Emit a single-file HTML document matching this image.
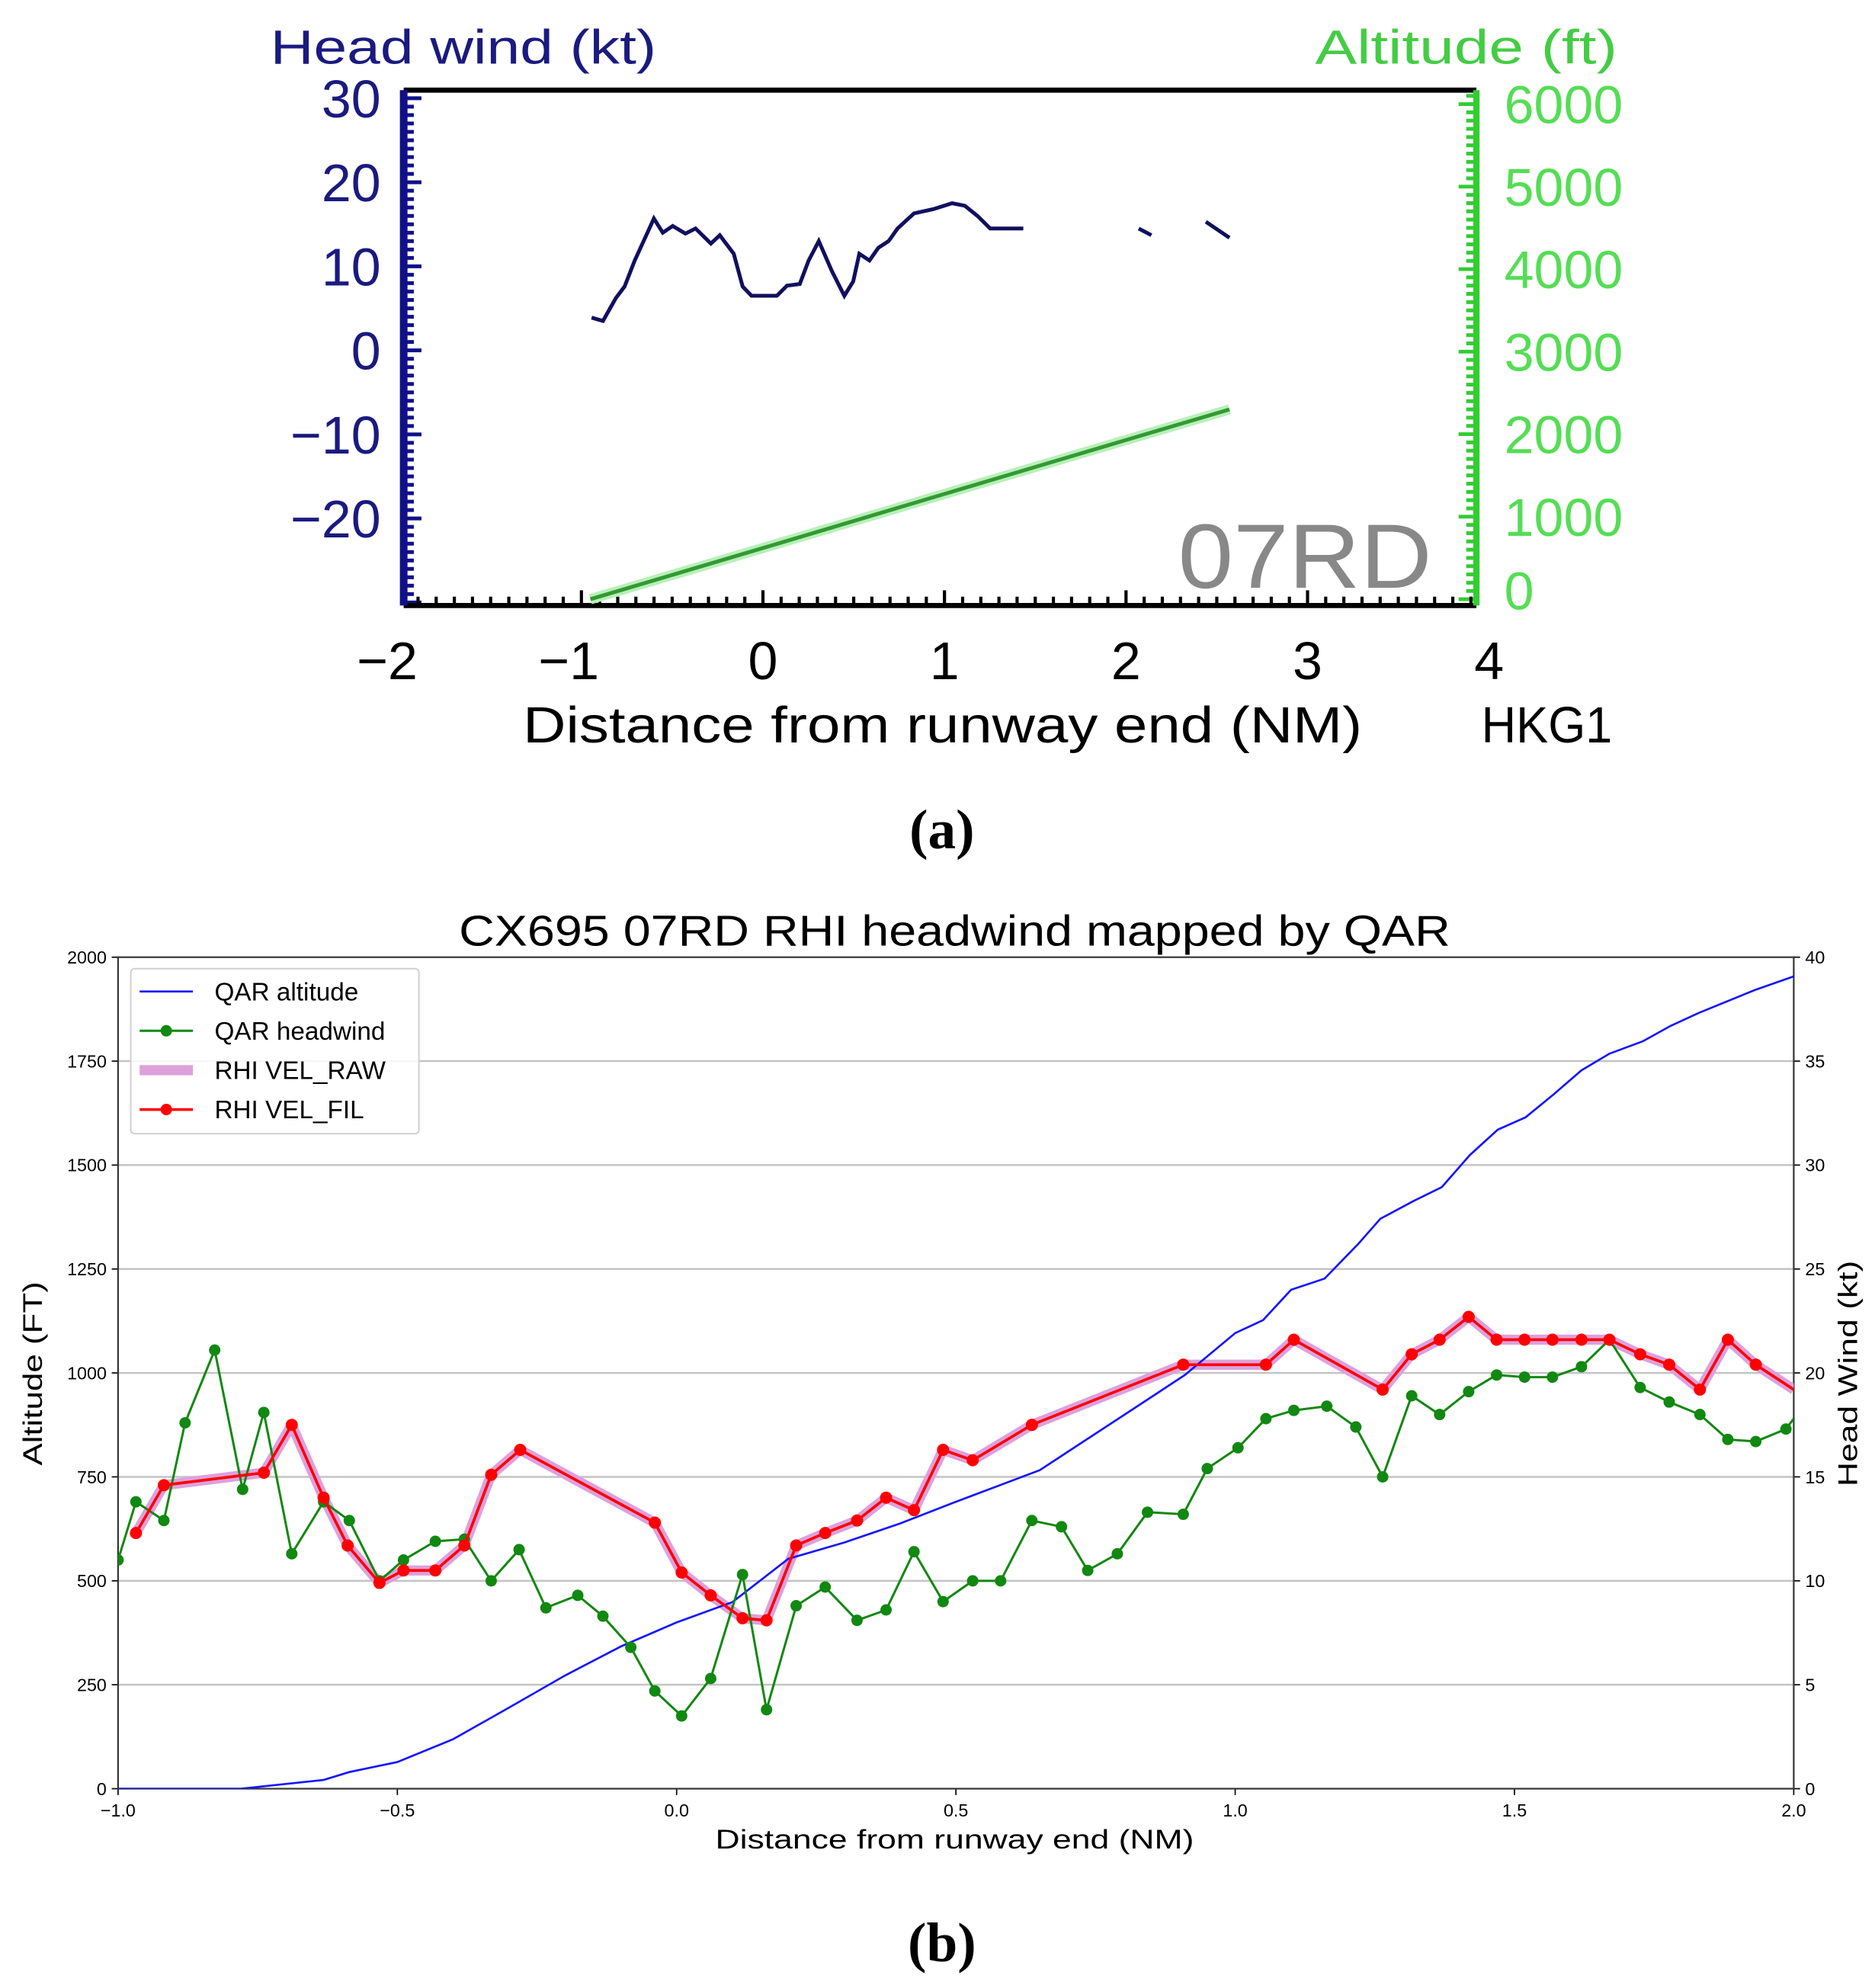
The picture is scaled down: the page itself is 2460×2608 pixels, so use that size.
<!DOCTYPE html>
<html><head><meta charset="utf-8"><style>
html,body{margin:0;padding:0;background:#fff;}
svg{display:block;}
text{font-family:"Liberation Sans",sans-serif;}
</style></head>
<body>
<svg id="fig" xmlns="http://www.w3.org/2000/svg" width="2460" height="2608" viewBox="0 0 1477 1566" preserveAspectRatio="none">
<rect x="0" y="0" width="1477" height="1566" fill="#fff"/>
<g id="pa"></g>
<g id="pb"></g>
</svg>
<script>
// ---------- Panel (a) data ----------
const aWindX = [-0.944,-0.881,-0.811,-0.762,-0.706,-0.657,-0.601,-0.552,-0.497,-0.427,-0.371,-0.287,-0.238,-0.161,-0.112,-0.063,0.077,0.133,0.203,0.252,0.308,0.378,0.448,0.497,0.531,0.587,0.636,0.692,0.741,0.832,0.937,1.042,1.112,1.182,1.252,1.322,1.434,null,2.07,2.14,null,2.44,2.57];
const aWindV = [3.9,3.5,6.2,7.6,10.7,13.0,15.7,14.0,14.8,13.9,14.5,12.7,13.7,11.5,7.6,6.5,6.5,7.7,7.9,10.7,13.0,9.5,6.5,8.2,11.5,10.7,12.2,13.0,14.5,16.3,16.8,17.5,17.2,16.0,14.5,14.5,14.5,null,14.5,13.7,null,15.3,13.4];
const aAltX = [-0.95,0,1,2,2.57];
const aAltV = [0,620,1275,1930,2300];
const aLeftTicks = [30,20,10,0,-10,-20];
const aRightTicks = [6000,5000,4000,3000,2000,1000,0];
const aXTicks = [-2,-1,0,1,2,3,4];

// ---------- Panel (b) data ----------
const bAltX = [-1.0,-0.78,-0.632,-0.586,-0.5,-0.4,-0.3,-0.2,-0.1,0,0.1,0.2,0.3,0.4,0.5,0.65,0.8,0.91,1.0,1.05,1.1,1.16,1.22,1.26,1.32,1.37,1.42,1.47,1.52,1.57,1.62,1.67,1.73,1.78,1.83,1.93,2.0];
const bAltV = [0,0,21,40,64,119,195,272,342,400,449,553,592,638,690,766,898,995,1096,1127,1200,1227,1310,1371,1414,1447,1524,1585,1615,1670,1728,1768,1798,1835,1866,1921,1954];
const bGreenX = [-1.0,-0.968,-0.918,-0.880,-0.827,-0.777,-0.739,-0.689,-0.632,-0.586,-0.532,-0.489,-0.432,-0.380,-0.332,-0.282,-0.234,-0.177,-0.132,-0.082,-0.039,0.009,0.061,0.118,0.161,0.214,0.266,0.323,0.375,0.425,0.477,0.530,0.580,0.636,0.689,0.736,0.789,0.843,0.907,0.950,1.005,1.055,1.105,1.164,1.216,1.264,1.316,1.366,1.418,1.468,1.518,1.568,1.620,1.670,1.725,1.777,1.832,1.882,1.932,1.986];
const bGreenV = [11.0,13.8,12.9,17.6,21.1,14.4,18.1,11.3,13.8,12.9,10.0,11.0,11.9,12.0,10.0,11.5,8.7,9.3,8.3,6.8,4.7,3.5,5.3,10.3,3.8,8.8,9.7,8.1,8.6,11.4,9.0,10.0,10.0,12.9,12.6,10.5,11.3,13.3,13.2,15.4,16.4,17.8,18.2,18.4,17.4,15.0,18.9,18.0,19.1,19.9,19.8,19.8,20.3,21.6,19.3,18.6,18.0,16.8,16.7,17.3];
const bRedX = [-0.968,-0.918,-0.739,-0.689,-0.632,-0.589,-0.532,-0.489,-0.432,-0.380,-0.332,-0.280,-0.039,0.009,0.061,0.118,0.161,0.214,0.266,0.323,0.375,0.425,0.477,0.530,0.636,0.907,1.055,1.105,1.264,1.316,1.366,1.418,1.468,1.518,1.568,1.620,1.670,1.725,1.777,1.832,1.882,1.932];
const bRedV = [12.3,14.6,15.2,17.5,14.0,11.7,9.9,10.5,10.5,11.7,15.1,16.3,12.8,10.4,9.3,8.2,8.1,11.7,12.3,12.9,14.0,13.4,16.3,15.8,17.5,20.4,20.4,21.6,19.2,20.9,21.6,22.7,21.6,21.6,21.6,21.6,21.6,20.9,20.4,19.2,21.6,20.4];
const bRedEndX = 2.0;
const bRedEndV = 19.2;
const bLeftTicks = [0,250,500,750,1000,1250,1500,1750,2000];
const bRightTicks = [0,5,10,15,20,25,30,35,40];
const bXTicks = [-1.0,-0.5,0.0,0.5,1.0,1.5,2.0];

const NS="http://www.w3.org/2000/svg";
function mk(parent,tag,attrs,txt){const e=document.createElementNS(NS,tag);for(const k in attrs)e.setAttribute(k,attrs[k]);if(txt!==undefined)e.textContent=txt;parent.appendChild(e);return e;}
function pathFrom(xs,vs,fx,fy){let d="",pen=false;for(let i=0;i<xs.length;i++){if(xs[i]===null||vs[i]===null){pen=false;continue;}d+=(pen?"L":"M")+fx(xs[i]).toFixed(1)+","+fy(vs[i]).toFixed(1)+" ";pen=true;}return d;}

// ================= PANEL A =================
const pa=document.getElementById('pa');
const axX=d=>601+d*143, axY=v=>276-v*6.62, aaY=a=>472-a*0.065;
const PL=318,PR=1163,PT=71,PB=477;
let t;
t=mk(pa,'text',{x:213,y:50,'font-size':38,fill:'#1a1a80',textLength:304,lengthAdjust:'spacingAndGlyphs'},'Head wind (kt)');

t=mk(pa,'text',{x:1036,y:50,'font-size':38,fill:'#44cc44',textLength:238,lengthAdjust:'spacingAndGlyphs'},'Altitude (ft)');

for(let v=-30;v<=30;v++){const y=axY(v);if(y<PT||y>PB)continue;const L=(v%10===0)?14:8;
 const tk=mk(pa,'line',{x1:PL,x2:PL+L,y1:y,y2:y,stroke:'#10108a','stroke-width':3});
 }
for(let a=0;a<=6200;a+=100){const y=aaY(a);if(y<PT||y>PB)continue;const L=(a%1000===0)?14:8;
 const tk=mk(pa,'line',{x1:PR-L,x2:PR,y1:y,y2:y,stroke:'#33cc33','stroke-width':3});
 }
for(let d=-2;d<=3.95;d+=0.1){const x=axX(d);if(x<PL||x>PR)continue;const major=Math.abs(d-Math.round(d))<0.01;
 const tk=mk(pa,'line',{x1:x,x2:x,y1:PB,y2:PB-(major?12:7),stroke:'#000','stroke-width':2.5});
 }
mk(pa,'line',{x1:PL,x2:PR,y1:PT,y2:PT,stroke:'#000','stroke-width':4});
mk(pa,'line',{x1:PL,x2:PR,y1:PB,y2:PB,stroke:'#000','stroke-width':4});
mk(pa,'line',{x1:PL,x2:PL,y1:PT,y2:PB,stroke:'#10108a','stroke-width':6});
mk(pa,'line',{x1:PR,x2:PR,y1:PT,y2:PB,stroke:'#33cc33','stroke-width':5});
aLeftTicks.forEach(v=>{const lb=mk(pa,'text',{x:300,y:axY(v)+15,'font-size':42,fill:'#1a1a80','text-anchor':'end'},v<0?'\u2212'+(-v):String(v));
 });
aRightTicks.forEach(a=>{const lb=mk(pa,'text',{x:1185,y:Math.min(aaY(a)+15,480),'font-size':42,fill:'#55dd55'},String(a));
 });
aXTicks.forEach(d=>{const lb=mk(pa,'text',{x:axX(d)-(d<0?10:0),y:535,'font-size':42,fill:'#000','text-anchor':'middle'},d<0?'\u2212'+(-d):String(d));
 });
t=mk(pa,'text',{x:412,y:585,'font-size':40,fill:'#000',textLength:661,lengthAdjust:'spacingAndGlyphs'},'Distance from runway end (NM)');

t=mk(pa,'text',{x:1167,y:585,'font-size':40,fill:'#000',textLength:103,lengthAdjust:'spacingAndGlyphs'},'HKG1');

t=mk(pa,'text',{x:928,y:463,'font-size':72,fill:'#888',textLength:200,lengthAdjust:'spacingAndGlyphs'},'07RD');

let s=mk(pa,'path',{d:pathFrom(aAltX,aAltV,axX,aaY),fill:'none',stroke:'#b8f0b8','stroke-width':8});

s=mk(pa,'path',{d:pathFrom(aAltX,aAltV,axX,aaY),fill:'none',stroke:'#339933','stroke-width':3});

s=mk(pa,'path',{d:pathFrom(aWindX,aWindV,axX,axY),fill:'none',stroke:'#10105e','stroke-width':3});

t=mk(pa,'text',{x:742,y:668,'font-size':44,'font-weight':'bold',fill:'#000','text-anchor':'middle',style:'font-family:"Liberation Serif",serif'},'(a)');


// ================= PANEL B =================
const pb=document.getElementById('pb');
const BL=93,BR=1413,BT=754,BB=1409;
const bx=d=>BL+(d+1)*440, byL=a=>BB-a*0.3275, byR=v=>BB-v*16.375;
bLeftTicks.forEach(a=>{const y=byL(a);
 if(a>0&&a<2000){const g=mk(pb,'line',{x1:BL,x2:BR,y1:y,y2:y,stroke:'#c4c4c4','stroke-width':1.5});}
 mk(pb,'line',{x1:BL-5,x2:BL,y1:y,y2:y,stroke:'#000','stroke-width':1});
 const lb=mk(pb,'text',{x:BL-9,y:y+5,'font-size':14,fill:'#000','text-anchor':'end'},String(a));
 });
bRightTicks.forEach(v=>{const y=byR(v);
 mk(pb,'line',{x1:BR,x2:BR+5,y1:y,y2:y,stroke:'#000','stroke-width':1});
 const lb=mk(pb,'text',{x:BR+9,y:y+5,'font-size':14,fill:'#000'},String(v));
 });
bXTicks.forEach(d=>{const x=bx(d);
 mk(pb,'line',{x1:x,x2:x,y1:BB,y2:BB+5,stroke:'#000','stroke-width':1});
 const lb=mk(pb,'text',{x:x,y:BB+22,'font-size':14,fill:'#000','text-anchor':'middle'},d<0?'\u2212'+(-d).toFixed(1):d.toFixed(1));
 });
let fr=mk(pb,'rect',{x:BL,y:BT,width:BR-BL,height:BB-BT,fill:'none',stroke:'#333','stroke-width':1.3});

t=mk(pb,'text',{x:752,y:745,'font-size':34,fill:'#000','text-anchor':'middle',textLength:781,lengthAdjust:'spacingAndGlyphs'},'CX695 07RD RHI headwind mapped by QAR');

t=mk(pb,'text',{x:752,y:1456,'font-size':21,fill:'#000','text-anchor':'middle',textLength:377,lengthAdjust:'spacingAndGlyphs'},'Distance from runway end (NM)');

t=mk(pb,'text',{x:0,y:0,'font-size':21,fill:'#000','text-anchor':'middle',transform:'translate(33,1082) rotate(-90)',textLength:145,lengthAdjust:'spacingAndGlyphs'},'Altitude (FT)');

t=mk(pb,'text',{x:0,y:0,'font-size':21,fill:'#000','text-anchor':'middle',transform:'translate(1463,1082) rotate(-90)',textLength:178,lengthAdjust:'spacingAndGlyphs'},'Head Wind (kt)');

const clip=mk(pb,'clipPath',{id:'bclip'});mk(clip,'rect',{x:BL,y:BT,width:BR-BL,height:BB-BT});
const sg=mk(pb,'g',{'clip-path':'url(#bclip)'});
let rx=bRedX.concat([bRedEndX]), rv=bRedV.concat([bRedEndV]);
s=mk(sg,'path',{d:pathFrom(rx,rv,bx,byR),fill:'none',stroke:'#dda0dd','stroke-width':8,'stroke-linejoin':'round'});

s=mk(sg,'path',{d:pathFrom(bAltX,bAltV,bx,byL),fill:'none',stroke:'#1515ff','stroke-width':1.6});

s=mk(sg,'path',{d:pathFrom(bGreenX.concat([2.0]),bGreenV.concat([17.8]),bx,byR),fill:'none',stroke:'#118811','stroke-width':1.8});

bGreenX.forEach((d,i)=>{const c=mk(sg,'circle',{cx:bx(d),cy:byR(bGreenV[i]),r:4.5,fill:'#118811'});
 });
s=mk(sg,'path',{d:pathFrom(rx,rv,bx,byR),fill:'none',stroke:'#ff0000','stroke-width':2.2,'stroke-linejoin':'round'});

bRedX.forEach((d,i)=>{const c=mk(sg,'circle',{cx:bx(d),cy:byR(bRedV[i]),r:4.8,fill:'#ff0000'});
 });
const lg=mk(pb,'g',{});
mk(lg,'rect',{x:103,y:763,width:227,height:130,fill:'#fff','fill-opacity':0.85,stroke:'#d0d0d0','stroke-width':1.2,rx:3});
const entries=[['QAR altitude','#1515ff',1.6,false],['QAR headwind','#118811',1.8,true],['RHI VEL_RAW','#dda0dd',8,false],['RHI VEL_FIL','#ff0000',2.2,true]];
entries.forEach((e,i)=>{const y=781+i*31;const eg=mk(lg,'g',{});
 
 mk(eg,'line',{x1:110,x2:152,y1:y,y2:y,stroke:e[1],'stroke-width':e[2]});
 if(e[3])mk(eg,'circle',{cx:131,cy:y,r:4.5,fill:e[1]});
 mk(eg,'text',{x:169,y:y+7,'font-size':20,fill:'#000'},e[0]);});
t=mk(pb,'text',{x:742,y:1545,'font-size':44,'font-weight':'bold',fill:'#000','text-anchor':'middle',style:'font-family:"Liberation Serif",serif'},'(b)');

</script>
</body></html>
